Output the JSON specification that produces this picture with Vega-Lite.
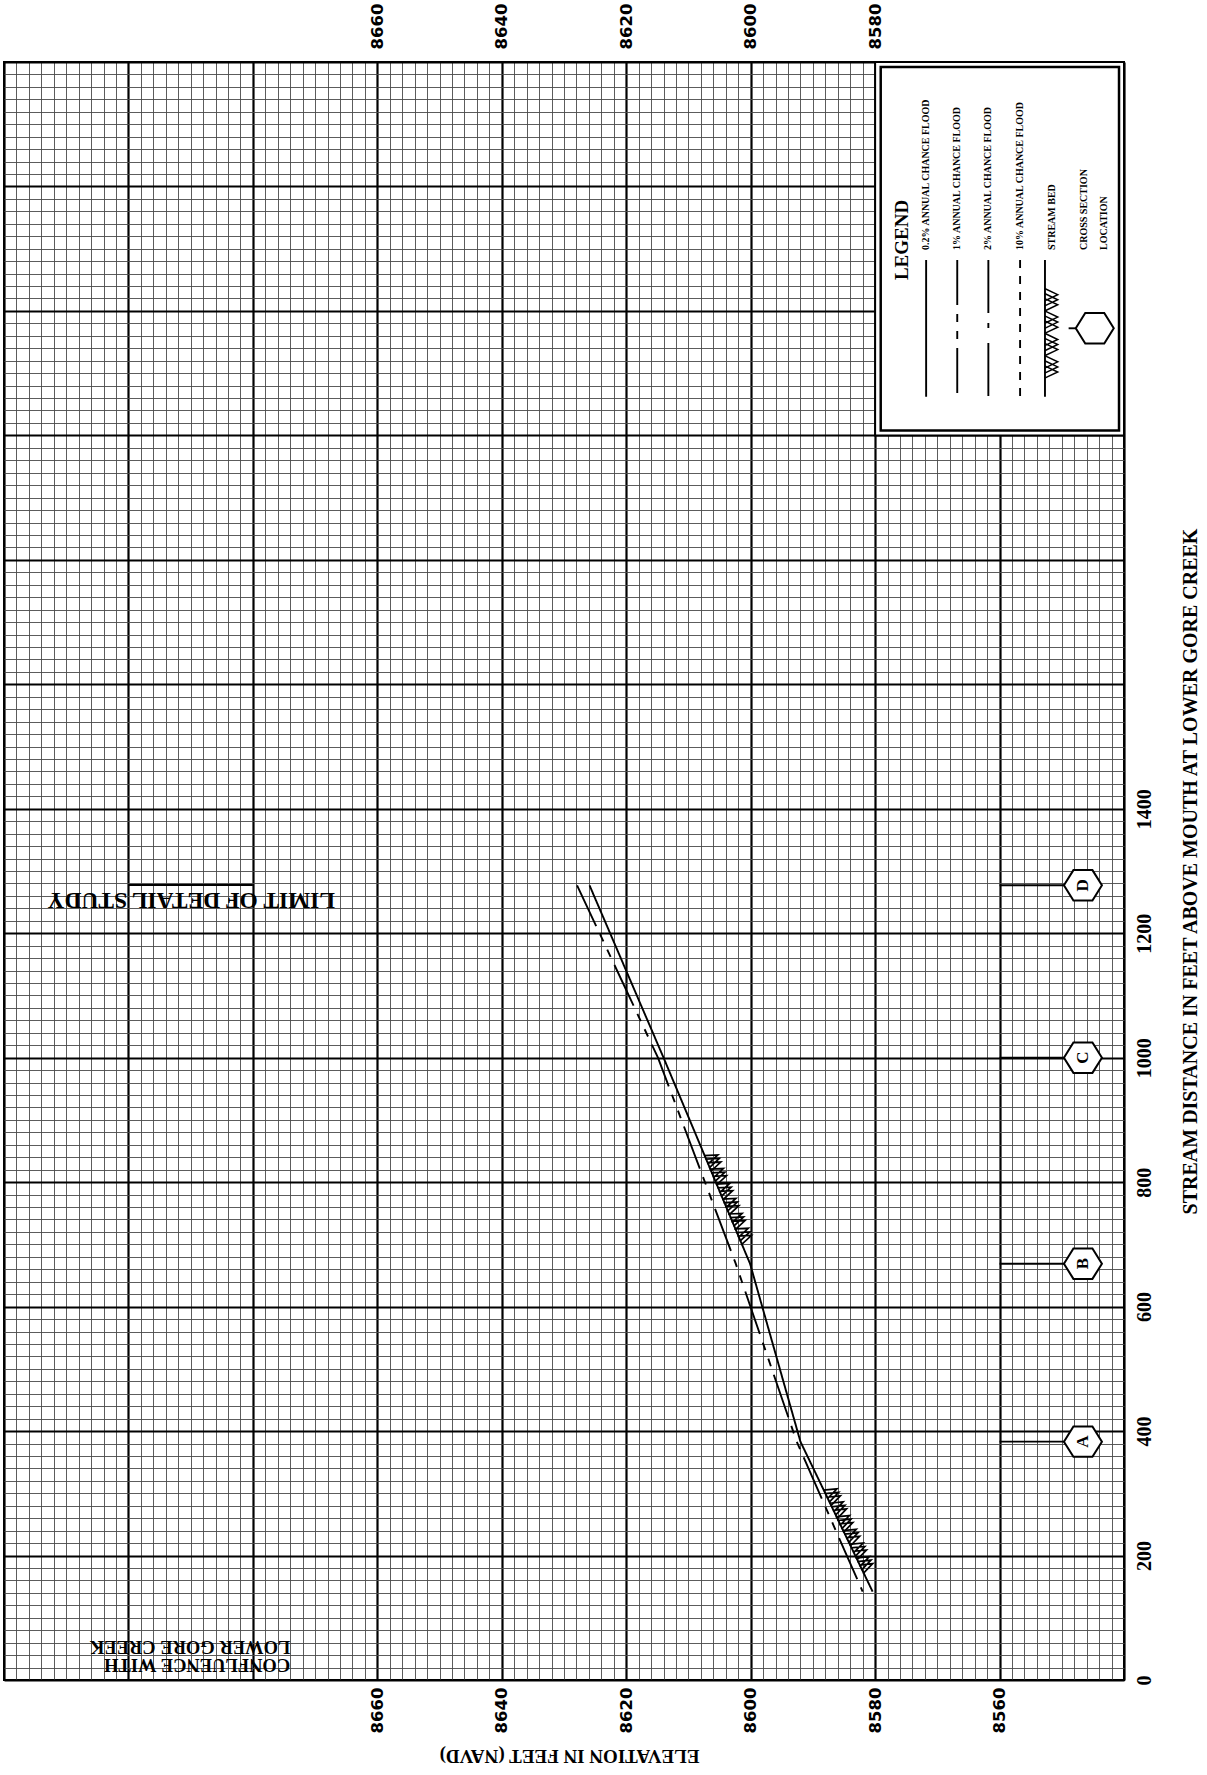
{
  "$schema": "https://vega.github.io/schema/vega-lite/v6.json",
  "width": 1120,
  "height": 1618,
  "autosize": {"type": "none"},
  "padding": {"left": 4, "top": 62, "right": 83, "bottom": 95},
  "background": "white",
  "config": {"view": {"stroke": "black", "strokeWidth": 2}},
  "resolve": {"axis": {"x": "independent"}},
  "encoding": {
    "x": {"field": "elevation", "type": "quantitative", "scale": {"domain": [8540, 8720], "reverse": true, "nice": false, "zero": false}, "axis": null},
    "y": {"field": "distance", "type": "quantitative", "scale": {"domain": [0, 2600], "nice": false, "zero": false},
      "axis": {
        "orient": "right",
        "values": [0,20,40,60,80,100,120,140,160,180,200,220,240,260,280,300,320,340,360,380,400,420,440,460,480,500,520,540,560,580,600,620,640,660,680,700,720,740,760,780,800,820,840,860,880,900,920,940,960,980,1000,1020,1040,1060,1080,1100,1120,1140,1160,1180,1200,1220,1240,1260,1280,1300,1320,1340,1360,1380,1400,1420,1440,1460,1480,1500,1520,1540,1560,1580,1600,1620,1640,1660,1680,1700,1720,1740,1760,1780,1800,1820,1840,1860,1880,1900,1920,1940,1960,1980,2000,2020,2040,2060,2080,2100,2120,2140,2160,2180,2200,2220,2240,2260,2280,2300,2320,2340,2360,2380,2400,2420,2440,2460,2480,2500,2520,2540,2560,2580,2600],
        "format": "d",
        "grid": true,
        "gridColor": {"condition": {"test": "datum.value % 200 === 0", "value": "#000000"}, "value": "#4a4a4a"},
        "gridWidth": {"condition": {"test": "datum.value % 200 === 0", "value": 2.2}, "value": 0.9},
        "gridOpacity": 1,
        "ticks": false,
        "domain": false,
        "labelExpr": "(datum.value % 200 === 0 && datum.value <= 1400) ? datum.label : ''",
        "labelAngle": 270,
        "labelAlign": "center",
        "labelBaseline": "top",
        "labelPadding": 10,
        "labelFont": "Liberation Serif",
        "labelFontWeight": "bold",
        "labelFontSize": 20,
        "labelColor": "black",
        "labelOverlap": false,
        "labelBound": false,
        "labelFlush": false,
        "title": "STREAM DISTANCE IN FEET ABOVE MOUTH AT LOWER GORE CREEK",
        "titleAngle": 270,
        "titleFont": "Liberation Serif",
        "titleFontSize": 20,
        "titleFontWeight": "bold",
        "titleColor": "black",
        "titleAlign": "center",
        "titleBaseline": "middle",
        "titleX": 66,
        "titleY": 809
      }
    }
  },
  "layer": [
    {
      "data": {"values": [{"elevation": 8580, "elevation_end": 8540, "distance": 2000, "distance_end": 2600}]},
      "mark": {"type": "rect", "fill": "white", "stroke": "black", "strokeWidth": 2},
      "encoding": {
        "x": {"field": "elevation", "type": "quantitative", "scale": {"domain": [8540, 8720], "reverse": true, "nice": false, "zero": false},
          "axis": {
            "orient": "bottom",
            "values": [8540,8542,8544,8546,8548,8550,8552,8554,8556,8558,8560,8562,8564,8566,8568,8570,8572,8574,8576,8578,8580,8582,8584,8586,8588,8590,8592,8594,8596,8598,8600,8602,8604,8606,8608,8610,8612,8614,8616,8618,8620,8622,8624,8626,8628,8630,8632,8634,8636,8638,8640,8642,8644,8646,8648,8650,8652,8654,8656,8658,8660,8662,8664,8666,8668,8670,8672,8674,8676,8678,8680,8682,8684,8686,8688,8690,8692,8694,8696,8698,8700,8702,8704,8706,8708,8710,8712,8714,8716,8718,8720],
            "format": "d",
            "grid": true,
            "gridColor": {"condition": {"test": "datum.value % 20 === 0", "value": "#000000"}, "value": "#4a4a4a"},
            "gridWidth": {"condition": {"test": "datum.value % 20 === 0", "value": 2.2}, "value": 0.9},
            "gridOpacity": 1,
            "ticks": false,
            "domain": false,
            "labelExpr": "(datum.value % 20 === 0 && datum.value >= 8560 && datum.value <= 8660) ? datum.label : ''",
            "labelAngle": 270,
            "labelAlign": "right",
            "labelBaseline": "middle",
            "labelPadding": 7,
            "labelFont": "DejaVu Sans",
            "labelFontWeight": "bold",
            "labelFontSize": 16.5,
            "labelColor": "black",
            "labelOverlap": false,
            "labelBound": false,
            "labelFlush": false,
            "title": "ELEVATION IN FEET (NAVD)",
            "titleAngle": 180,
            "titleFont": "Liberation Serif",
            "titleFontSize": 19,
            "titleFontWeight": "bold",
            "titleColor": "black",
            "titleAlign": "center",
            "titleBaseline": "middle",
            "titleX": 565,
            "titleY": 75
          }
        },
        "x2": {"field": "elevation_end"},
        "y2": {"field": "distance_end"}
      }
    },
    {
      "data": {"values": [{"elevation": 8579.1, "elevation_end": 8540.8, "distance": 2008, "distance_end": 2592}]},
      "mark": {"type": "rect", "fillOpacity": 0, "stroke": "black", "strokeWidth": 2.5},
      "encoding": {
        "x": {"field": "elevation", "type": "quantitative", "scale": {"domain": [8540, 8720], "reverse": true, "nice": false, "zero": false},
          "axis": {
            "orient": "top",
            "values": [8660, 8640, 8620, 8600, 8580],
            "format": "d",
            "grid": false,
            "ticks": false,
            "domain": false,
            "labelAngle": 270,
            "labelAlign": "left",
            "labelBaseline": "middle",
            "labelPadding": 13,
            "labelFont": "DejaVu Sans",
            "labelFontWeight": "bold",
            "labelFontSize": 16.5,
            "labelColor": "black",
            "labelOverlap": false,
            "labelBound": false,
            "labelFlush": false,
            "title": null
          }
        },
        "x2": {"field": "elevation_end"},
        "y2": {"field": "distance_end"}
      }
    },
    {
      "data": {"values": [
        {"profile": "0.2% ANNUAL CHANCE FLOOD", "distance": 142, "elevation": 8580.4},
        {"profile": "0.2% ANNUAL CHANCE FLOOD", "distance": 383, "elevation": 8592.0},
        {"profile": "0.2% ANNUAL CHANCE FLOOD", "distance": 669, "elevation": 8600.1},
        {"profile": "0.2% ANNUAL CHANCE FLOOD", "distance": 1000, "elevation": 8614.0},
        {"profile": "0.2% ANNUAL CHANCE FLOOD", "distance": 1277, "elevation": 8625.9},
        {"profile": "1% ANNUAL CHANCE FLOOD", "distance": 142, "elevation": 8582.0},
        {"profile": "1% ANNUAL CHANCE FLOOD", "distance": 383, "elevation": 8592.6},
        {"profile": "1% ANNUAL CHANCE FLOOD", "distance": 669, "elevation": 8602.4},
        {"profile": "1% ANNUAL CHANCE FLOOD", "distance": 1000, "elevation": 8614.9},
        {"profile": "1% ANNUAL CHANCE FLOOD", "distance": 1277, "elevation": 8627.9}
      ]},
      "mark": {"type": "line", "color": "black", "strokeWidth": 1.9},
      "encoding": {
        "strokeDash": {"field": "profile", "type": "nominal",
          "scale": {"domain": ["0.2% ANNUAL CHANCE FLOOD", "1% ANNUAL CHANCE FLOOD", "2% ANNUAL CHANCE FLOOD", "10% ANNUAL CHANCE FLOOD", "STREAM BED"],
                    "range": [[1, 0], [45, 9, 8, 9, 8, 9], [53, 10, 5, 15], [8, 8], [1, 0]]},
          "legend": null},
        "order": {"field": "distance", "type": "quantitative", "sort": "descending"}
      }
    },
    {
      "data": {"values": [
        {"segment": "lower", "distance": 188, "elevation": 8581.6},
        {"segment": "lower", "distance": 210, "elevation": 8582.6},
        {"segment": "lower", "distance": 232, "elevation": 8583.7},
        {"segment": "lower", "distance": 254, "elevation": 8584.8},
        {"segment": "lower", "distance": 276, "elevation": 8585.8},
        {"segment": "lower", "distance": 297, "elevation": 8586.8}
      ]},
      "mark": {"type": "point", "shape": "M -0.75 -1 L 0.75 -0.45 L -0.75 0.1 M -0.75 -0.55 L 0.75 0 L -0.75 0.55 M -0.75 -0.1 L 0.75 0.45 L -0.75 1", "size": 300, "filled": false, "color": "black", "opacity": 1, "strokeWidth": 1.7, "angle": -25.8}
    },
    {
      "data": {"values": [
        {"segment": "upper", "distance": 716, "elevation": 8601.1},
        {"segment": "upper", "distance": 740, "elevation": 8602.1},
        {"segment": "upper", "distance": 764, "elevation": 8603.1},
        {"segment": "upper", "distance": 788, "elevation": 8604.1},
        {"segment": "upper", "distance": 812, "elevation": 8605.1},
        {"segment": "upper", "distance": 834, "elevation": 8606.0}
      ]},
      "mark": {"type": "point", "shape": "M -0.75 -1 L 0.75 -0.45 L -0.75 0.1 M -0.75 -0.55 L 0.75 0 L -0.75 0.55 M -0.75 -0.1 L 0.75 0.45 L -0.75 1", "size": 300, "filled": false, "color": "black", "opacity": 1, "strokeWidth": 1.7, "angle": -22.8}
    },
    {
      "data": {"values": [
        {"section": "A", "distance": 383, "elevation": 8560, "elevation_end": 8549.6},
        {"section": "B", "distance": 669, "elevation": 8560, "elevation_end": 8549.6},
        {"section": "C", "distance": 1000, "elevation": 8560, "elevation_end": 8549.6},
        {"section": "D", "distance": 1277, "elevation": 8560, "elevation_end": 8549.6},
        {"section": "legend", "distance": 2172.1, "elevation": 8548.9, "elevation_end": 8547.6},
        {"section": "limit", "distance": 1277.5, "elevation": 8700, "elevation_end": 8680}
      ]},
      "mark": {"type": "rule", "color": "black", "strokeWidth": 1.9},
      "encoding": {"x2": {"field": "elevation_end"}}
    },
    {
      "data": {"values": [
        {"section": "A", "distance": 383, "elevation": 8546.6},
        {"section": "B", "distance": 669, "elevation": 8546.6},
        {"section": "C", "distance": 1000, "elevation": 8546.6},
        {"section": "D", "distance": 1277, "elevation": 8546.6},
        {"section": "", "distance": 2172.1, "elevation": 8544.7}
      ]},
      "mark": {"type": "point", "shape": "M -1 0 L -0.5 -0.8 L 0.5 -0.8 L 1 0 L 0.5 0.8 L -0.5 0.8 Z", "size": 1444, "filled": true, "fill": "white", "stroke": "black", "strokeWidth": 2, "opacity": 1}
    },
    {
      "data": {"values": [
        {"section": "A", "distance": 383, "elevation": 8546.6},
        {"section": "B", "distance": 669, "elevation": 8546.6},
        {"section": "C", "distance": 1000, "elevation": 8546.6},
        {"section": "D", "distance": 1277, "elevation": 8546.6}
      ]},
      "mark": {"type": "text", "angle": 270, "align": "center", "baseline": "middle", "font": "Liberation Serif", "fontWeight": "bold", "fontSize": 17, "fill": "black"},
      "encoding": {"text": {"field": "section", "type": "nominal"}}
    },
    {
      "data": {"values": [{"note": "LIMIT OF DETAIL STUDY", "distance": 1253.4, "elevation": 8689.9}]},
      "mark": {"type": "text", "angle": 180, "align": "center", "baseline": "middle", "font": "Liberation Serif", "fontWeight": "bold", "fontSize": 23.5, "fill": "black"},
      "encoding": {"text": {"field": "note", "type": "nominal"}}
    },
    {
      "data": {"values": [
        {"note": "CONFLUENCE WITH", "distance": 24, "elevation": 8674.0},
        {"note": "LOWER GORE CREEK", "distance": 53, "elevation": 8674.0}
      ]},
      "mark": {"type": "text", "angle": 180, "align": "left", "baseline": "middle", "font": "Liberation Serif", "fontWeight": "bold", "fontSize": 18.5, "fill": "black"},
      "encoding": {"text": {"field": "note", "type": "nominal"}}
    },
    {
      "data": {"values": [{"note": "LEGEND", "distance": 2314, "elevation": 8575.7}]},
      "mark": {"type": "text", "angle": 270, "align": "center", "baseline": "middle", "font": "Liberation Serif", "fontWeight": "bold", "fontSize": 19, "fill": "black"},
      "encoding": {"text": {"field": "note", "type": "nominal"}}
    },
    {
      "data": {"values": [
        {"profile": "0.2% ANNUAL CHANCE FLOOD", "elevation": 8571.8, "distance": 2281.8},
        {"profile": "0.2% ANNUAL CHANCE FLOOD", "elevation": 8571.8, "distance": 2062.2},
        {"profile": "1% ANNUAL CHANCE FLOOD", "elevation": 8566.8, "distance": 2281.8},
        {"profile": "1% ANNUAL CHANCE FLOOD", "elevation": 8566.8, "distance": 2062.2},
        {"profile": "2% ANNUAL CHANCE FLOOD", "elevation": 8561.8, "distance": 2281.8},
        {"profile": "2% ANNUAL CHANCE FLOOD", "elevation": 8561.8, "distance": 2062.2},
        {"profile": "10% ANNUAL CHANCE FLOOD", "elevation": 8556.7, "distance": 2281.8},
        {"profile": "10% ANNUAL CHANCE FLOOD", "elevation": 8556.7, "distance": 2062.2},
        {"profile": "STREAM BED", "elevation": 8552.7, "distance": 2281.8},
        {"profile": "STREAM BED", "elevation": 8552.7, "distance": 2062.2}
      ]},
      "mark": {"type": "line", "color": "black", "strokeWidth": 1.9},
      "encoding": {
        "strokeDash": {"field": "profile", "type": "nominal", "legend": null},
        "order": {"field": "distance", "type": "quantitative", "sort": "descending"}
      }
    },
    {
      "data": {"values": [
        {"label": "0.2% ANNUAL CHANCE FLOOD", "elevation": 8571.8, "distance": 2297.9},
        {"label": "1% ANNUAL CHANCE FLOOD", "elevation": 8566.8, "distance": 2297.9},
        {"label": "2% ANNUAL CHANCE FLOOD", "elevation": 8561.8, "distance": 2297.9},
        {"label": "10% ANNUAL CHANCE FLOOD", "elevation": 8556.7, "distance": 2297.9},
        {"label": "STREAM BED", "elevation": 8551.6, "distance": 2297.9},
        {"label": "CROSS SECTION", "elevation": 8546.5, "distance": 2297.9},
        {"label": "LOCATION", "elevation": 8543.2, "distance": 2297.9}
      ]},
      "mark": {"type": "text", "angle": 270, "align": "left", "baseline": "middle", "font": "Liberation Serif", "fontWeight": "bold", "fontSize": 10, "fill": "black"},
      "encoding": {"text": {"field": "label", "type": "nominal"}}
    },
    {
      "data": {"values": [
        {"item": "STREAM BED", "distance": 2218, "elevation": 8551.7},
        {"item": "STREAM BED", "distance": 2182, "elevation": 8551.7},
        {"item": "STREAM BED", "distance": 2146, "elevation": 8551.7},
        {"item": "STREAM BED", "distance": 2110, "elevation": 8551.7}
      ]},
      "mark": {"type": "point", "shape": "M -0.58 -1 L 0.58 -0.45 L -0.58 0.1 M -0.58 -0.55 L 0.58 0 L -0.58 0.55 M -0.58 -0.1 L 0.58 0.45 L -0.58 1", "size": 506, "filled": false, "color": "black", "opacity": 1, "strokeWidth": 1.5}
    }
  ]
}
